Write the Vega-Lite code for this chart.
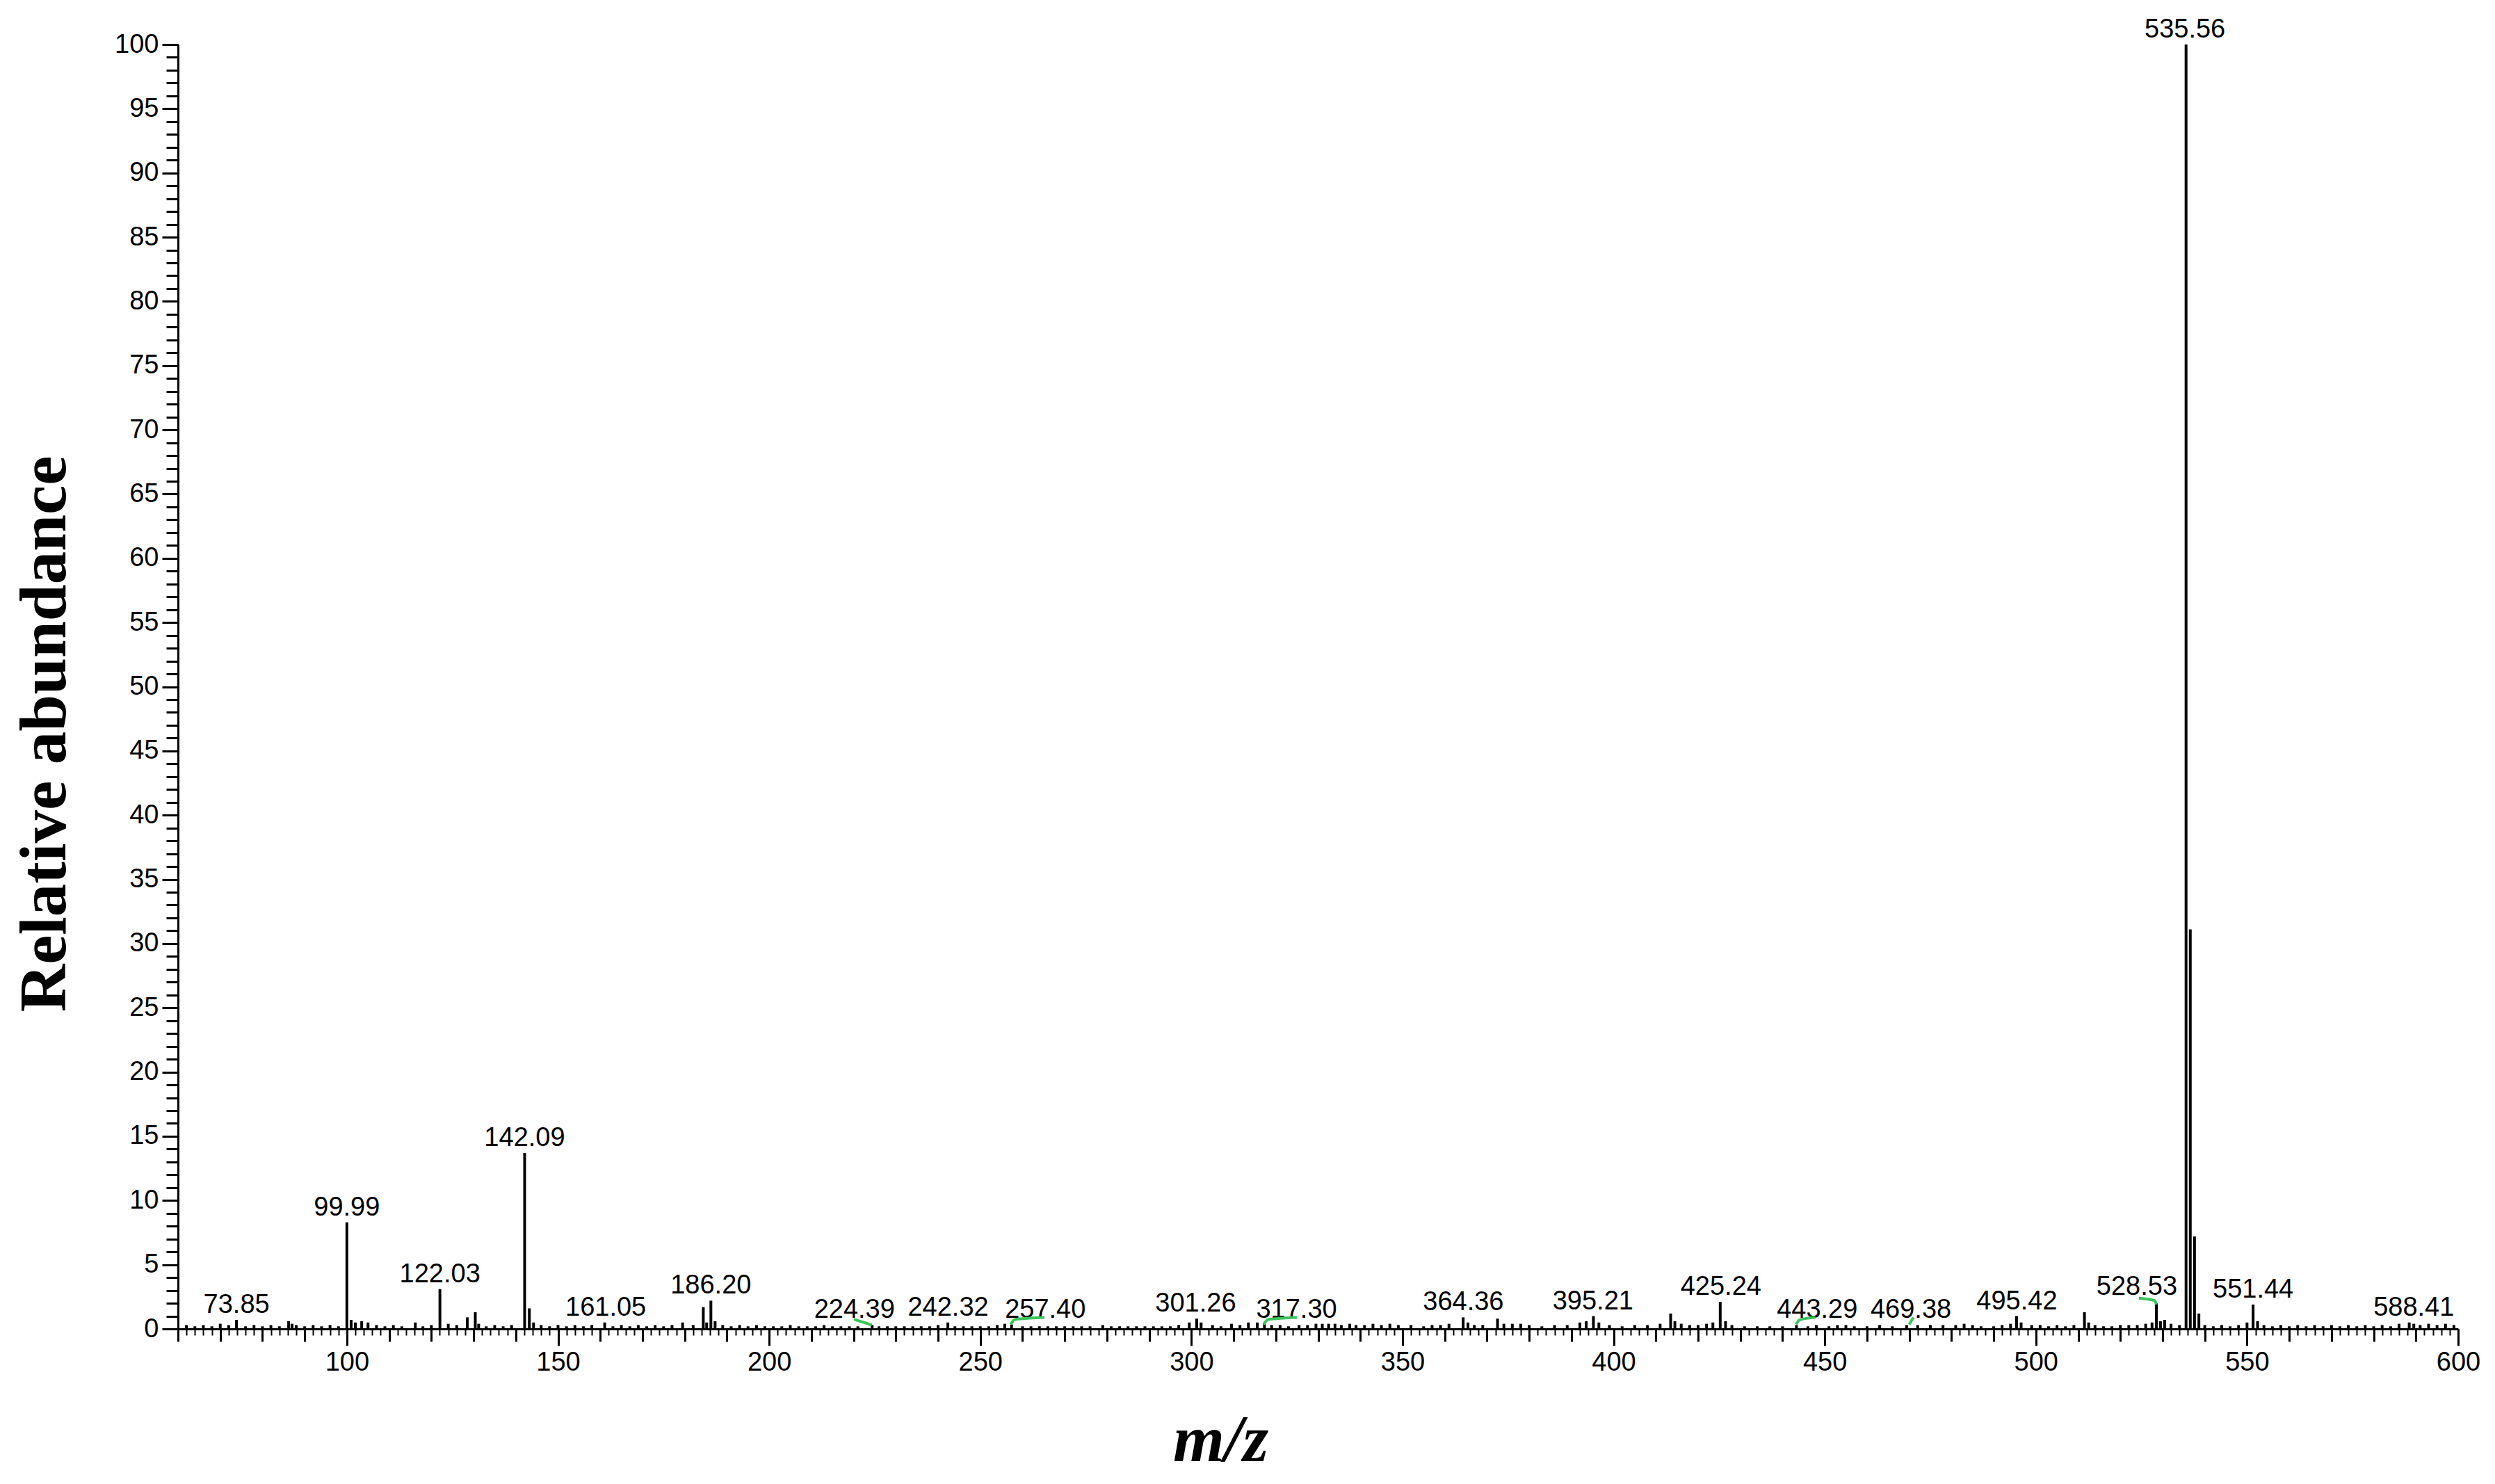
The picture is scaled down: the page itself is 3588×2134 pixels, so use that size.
{
  "$schema": "https://vega.github.io/schema/vega-lite/v6.json",
  "width": 3279,
  "height": 1847,
  "autosize": {"type": "none"},
  "padding": {"left": 256, "top": 64, "right": 53, "bottom": 223},
  "background": "white",
  "config": {"view": {"stroke": null}},
  "datasets": {
    "peaks": [
      {"mz": 62, "ab": 0.3}, {"mz": 64, "ab": 0.2}, {"mz": 66, "ab": 0.3}, {"mz": 68, "ab": 0.2}, {"mz": 70, "ab": 0.4},
      {"mz": 72, "ab": 0.3}, {"mz": 73.85, "ab": 0.7}, {"mz": 76, "ab": 0.2}, {"mz": 78, "ab": 0.3},
      {"mz": 80, "ab": 0.2}, {"mz": 82, "ab": 0.3}, {"mz": 84, "ab": 0.2}, {"mz": 86.2, "ab": 0.6}, {"mz": 87, "ab": 0.4},
      {"mz": 88, "ab": 0.3}, {"mz": 90, "ab": 0.2}, {"mz": 92, "ab": 0.3}, {"mz": 94, "ab": 0.2}, {"mz": 96, "ab": 0.3},
      {"mz": 98, "ab": 0.2}, {"mz": 99.99, "ab": 8.3}, {"mz": 101, "ab": 0.7}, {"mz": 102, "ab": 0.5},
      {"mz": 103.5, "ab": 0.6}, {"mz": 105, "ab": 0.5}, {"mz": 107, "ab": 0.3}, {"mz": 109, "ab": 0.2}, {"mz": 111, "ab": 0.3},
      {"mz": 113, "ab": 0.2}, {"mz": 116.2, "ab": 0.5}, {"mz": 118, "ab": 0.2}, {"mz": 120, "ab": 0.3},
      {"mz": 122.03, "ab": 3.1}, {"mz": 124, "ab": 0.4}, {"mz": 126, "ab": 0.3}, {"mz": 128.5, "ab": 0.9},
      {"mz": 130.4, "ab": 1.3}, {"mz": 131.2, "ab": 0.4}, {"mz": 133, "ab": 0.2}, {"mz": 135, "ab": 0.3}, {"mz": 137, "ab": 0.2},
      {"mz": 139, "ab": 0.3}, {"mz": 142.09, "ab": 13.7}, {"mz": 143.2, "ab": 1.6}, {"mz": 144.2, "ab": 0.5},
      {"mz": 146, "ab": 0.3}, {"mz": 148, "ab": 0.2}, {"mz": 150, "ab": 0.3}, {"mz": 152, "ab": 0.2}, {"mz": 154, "ab": 0.3},
      {"mz": 156, "ab": 0.2}, {"mz": 158, "ab": 0.3}, {"mz": 161.05, "ab": 0.5}, {"mz": 163, "ab": 0.2},
      {"mz": 165, "ab": 0.3}, {"mz": 167, "ab": 0.2}, {"mz": 169, "ab": 0.3}, {"mz": 171, "ab": 0.2}, {"mz": 173, "ab": 0.3},
      {"mz": 175, "ab": 0.2}, {"mz": 177, "ab": 0.3}, {"mz": 179.5, "ab": 0.5}, {"mz": 182, "ab": 0.3}, {"mz": 184.4, "ab": 1.7},
      {"mz": 185.2, "ab": 0.5}, {"mz": 186.2, "ab": 2.2}, {"mz": 187.2, "ab": 0.6}, {"mz": 189, "ab": 0.3},
      {"mz": 191, "ab": 0.2}, {"mz": 193, "ab": 0.3}, {"mz": 195, "ab": 0.2}, {"mz": 197, "ab": 0.3}, {"mz": 199, "ab": 0.2},
      {"mz": 201, "ab": 0.2}, {"mz": 203, "ab": 0.2}, {"mz": 205, "ab": 0.3}, {"mz": 207, "ab": 0.2}, {"mz": 209, "ab": 0.2},
      {"mz": 211, "ab": 0.2}, {"mz": 213, "ab": 0.3}, {"mz": 215, "ab": 0.2}, {"mz": 217, "ab": 0.2}, {"mz": 219, "ab": 0.2},
      {"mz": 221, "ab": 0.2}, {"mz": 224.39, "ab": 0.3}, {"mz": 226, "ab": 0.2}, {"mz": 228, "ab": 0.2},
      {"mz": 230, "ab": 0.2}, {"mz": 232, "ab": 0.2}, {"mz": 234, "ab": 0.2}, {"mz": 236, "ab": 0.2}, {"mz": 238, "ab": 0.2},
      {"mz": 240, "ab": 0.3}, {"mz": 242.32, "ab": 0.5}, {"mz": 244, "ab": 0.2}, {"mz": 246, "ab": 0.2},
      {"mz": 248, "ab": 0.2}, {"mz": 250, "ab": 0.2}, {"mz": 252, "ab": 0.2}, {"mz": 254, "ab": 0.3}, {"mz": 255.8, "ab": 0.4},
      {"mz": 257.4, "ab": 0.35}, {"mz": 260, "ab": 0.2}, {"mz": 262, "ab": 0.2}, {"mz": 264, "ab": 0.2},
      {"mz": 266, "ab": 0.2}, {"mz": 268, "ab": 0.2}, {"mz": 270, "ab": 0.2}, {"mz": 272, "ab": 0.2}, {"mz": 274, "ab": 0.2},
      {"mz": 276, "ab": 0.2}, {"mz": 279, "ab": 0.3}, {"mz": 281, "ab": 0.2}, {"mz": 283, "ab": 0.2}, {"mz": 285, "ab": 0.2},
      {"mz": 287, "ab": 0.2}, {"mz": 289, "ab": 0.2}, {"mz": 291, "ab": 0.2}, {"mz": 293, "ab": 0.2}, {"mz": 295, "ab": 0.2},
      {"mz": 297, "ab": 0.3}, {"mz": 299.5, "ab": 0.5}, {"mz": 301.26, "ab": 0.8}, {"mz": 302.3, "ab": 0.5},
      {"mz": 305, "ab": 0.3}, {"mz": 307, "ab": 0.2}, {"mz": 309.5, "ab": 0.4}, {"mz": 311.5, "ab": 0.3}, {"mz": 313.5, "ab": 0.5},
      {"mz": 315.6, "ab": 0.5}, {"mz": 317.3, "ab": 0.4}, {"mz": 319, "ab": 0.3}, {"mz": 321, "ab": 0.3},
      {"mz": 323, "ab": 0.2}, {"mz": 325.5, "ab": 0.3}, {"mz": 327.5, "ab": 0.3}, {"mz": 329.5, "ab": 0.4}, {"mz": 331, "ab": 0.4},
      {"mz": 332.5, "ab": 0.4}, {"mz": 334, "ab": 0.4}, {"mz": 335.5, "ab": 0.3}, {"mz": 337.5, "ab": 0.4}, {"mz": 339, "ab": 0.3},
      {"mz": 341, "ab": 0.3}, {"mz": 343, "ab": 0.4}, {"mz": 345, "ab": 0.3}, {"mz": 347, "ab": 0.4}, {"mz": 349, "ab": 0.3},
      {"mz": 352, "ab": 0.3}, {"mz": 355, "ab": 0.2}, {"mz": 357, "ab": 0.3}, {"mz": 359, "ab": 0.3}, {"mz": 361, "ab": 0.4},
      {"mz": 364.36, "ab": 0.9}, {"mz": 365.5, "ab": 0.5}, {"mz": 367, "ab": 0.3}, {"mz": 369, "ab": 0.3},
      {"mz": 372.5, "ab": 0.8}, {"mz": 374, "ab": 0.4}, {"mz": 376, "ab": 0.4}, {"mz": 378, "ab": 0.4}, {"mz": 380, "ab": 0.3},
      {"mz": 383, "ab": 0.2}, {"mz": 386, "ab": 0.3}, {"mz": 389, "ab": 0.3}, {"mz": 392, "ab": 0.5}, {"mz": 393.5, "ab": 0.6},
      {"mz": 395.21, "ab": 1.0}, {"mz": 396.5, "ab": 0.5}, {"mz": 399, "ab": 0.3}, {"mz": 402, "ab": 0.2},
      {"mz": 405, "ab": 0.3}, {"mz": 408, "ab": 0.3}, {"mz": 411, "ab": 0.4}, {"mz": 413.5, "ab": 1.2}, {"mz": 414.5, "ab": 0.6},
      {"mz": 416, "ab": 0.4}, {"mz": 418, "ab": 0.3}, {"mz": 420, "ab": 0.3}, {"mz": 422, "ab": 0.4}, {"mz": 423.5, "ab": 0.5},
      {"mz": 425.24, "ab": 2.1}, {"mz": 426.5, "ab": 0.6}, {"mz": 428, "ab": 0.3}, {"mz": 431, "ab": 0.2},
      {"mz": 434, "ab": 0.2}, {"mz": 437, "ab": 0.2}, {"mz": 440, "ab": 0.2}, {"mz": 443.29, "ab": 0.3},
      {"mz": 446, "ab": 0.2}, {"mz": 448, "ab": 0.3}, {"mz": 451, "ab": 0.2}, {"mz": 453, "ab": 0.3}, {"mz": 455, "ab": 0.3},
      {"mz": 457, "ab": 0.2}, {"mz": 460, "ab": 0.2}, {"mz": 463, "ab": 0.3}, {"mz": 466, "ab": 0.2},
      {"mz": 469.38, "ab": 0.3}, {"mz": 472, "ab": 0.3}, {"mz": 475, "ab": 0.3}, {"mz": 478, "ab": 0.3},
      {"mz": 481, "ab": 0.3}, {"mz": 483, "ab": 0.4}, {"mz": 485, "ab": 0.3}, {"mz": 487, "ab": 0.2}, {"mz": 490, "ab": 0.2},
      {"mz": 492, "ab": 0.3}, {"mz": 494, "ab": 0.4}, {"mz": 495.42, "ab": 1.0}, {"mz": 496.5, "ab": 0.5},
      {"mz": 499, "ab": 0.3}, {"mz": 501, "ab": 0.3}, {"mz": 503, "ab": 0.2}, {"mz": 505, "ab": 0.3}, {"mz": 507, "ab": 0.2},
      {"mz": 509, "ab": 0.3}, {"mz": 511.5, "ab": 1.3}, {"mz": 512.5, "ab": 0.5}, {"mz": 514, "ab": 0.3}, {"mz": 516, "ab": 0.2},
      {"mz": 518, "ab": 0.2}, {"mz": 520, "ab": 0.3}, {"mz": 522, "ab": 0.3}, {"mz": 524, "ab": 0.3}, {"mz": 526, "ab": 0.4},
      {"mz": 527.5, "ab": 0.5}, {"mz": 528.53, "ab": 2.0}, {"mz": 529.5, "ab": 0.6}, {"mz": 530.5, "ab": 0.7},
      {"mz": 532, "ab": 0.4}, {"mz": 534, "ab": 0.3}, {"mz": 535.56, "ab": 100}, {"mz": 536.56, "ab": 31.1},
      {"mz": 537.56, "ab": 7.2}, {"mz": 538.6, "ab": 1.2}, {"mz": 540, "ab": 0.3}, {"mz": 542, "ab": 0.2}, {"mz": 544, "ab": 0.3},
      {"mz": 546, "ab": 0.2}, {"mz": 548, "ab": 0.3}, {"mz": 550, "ab": 0.5}, {"mz": 551.44, "ab": 1.9},
      {"mz": 552.5, "ab": 0.6}, {"mz": 554, "ab": 0.3}, {"mz": 556, "ab": 0.2}, {"mz": 558, "ab": 0.3}, {"mz": 560, "ab": 0.2},
      {"mz": 562, "ab": 0.3}, {"mz": 564, "ab": 0.2}, {"mz": 566, "ab": 0.3}, {"mz": 568, "ab": 0.2}, {"mz": 570, "ab": 0.3},
      {"mz": 572, "ab": 0.2}, {"mz": 574, "ab": 0.3}, {"mz": 576, "ab": 0.2}, {"mz": 578, "ab": 0.3}, {"mz": 580, "ab": 0.2},
      {"mz": 582, "ab": 0.3}, {"mz": 584, "ab": 0.2}, {"mz": 586, "ab": 0.4}, {"mz": 588.41, "ab": 0.5},
      {"mz": 589.5, "ab": 0.4}, {"mz": 591, "ab": 0.3}, {"mz": 593, "ab": 0.4}, {"mz": 595, "ab": 0.3}, {"mz": 597, "ab": 0.4},
      {"mz": 599, "ab": 0.3}
    ],
    "labels": [
      {"label": "73.85", "mz": 73.85, "ab": 0.7}, {"label": "99.99", "mz": 99.99, "ab": 8.3},
      {"label": "122.03", "mz": 122.03, "ab": 3.1}, {"label": "142.09", "mz": 142.09, "ab": 13.7},
      {"label": "161.05", "mz": 161.3, "ab": 0.5}, {"label": "186.20", "mz": 186.2, "ab": 2.2},
      {"label": "224.39", "mz": 220.2, "ab": 0.3}, {"label": "242.32", "mz": 242.4, "ab": 0.5},
      {"label": "257.40", "mz": 265.4, "ab": 0.3}, {"label": "301.26", "mz": 301.0, "ab": 0.8},
      {"label": "317.30", "mz": 324.9, "ab": 0.3}, {"label": "364.36", "mz": 364.4, "ab": 0.9},
      {"label": "395.21", "mz": 395.1, "ab": 1.0}, {"label": "425.24", "mz": 425.4, "ab": 2.1},
      {"label": "443.29", "mz": 448.2, "ab": 0.3}, {"label": "469.38", "mz": 470.4, "ab": 0.3},
      {"label": "495.42", "mz": 495.5, "ab": 1.0}, {"label": "528.53", "mz": 523.9, "ab": 2.1},
      {"label": "535.56", "mz": 535.3, "ab": 100}, {"label": "551.44", "mz": 551.44, "ab": 1.9},
      {"label": "588.41", "mz": 589.5, "ab": 0.5}
    ],
    "callouts": [
      {"g": "224.39", "o": 1, "mz": 220.1, "ab": 0.75}, {"g": "224.39", "o": 2, "mz": 222.5, "ab": 0.5}, {"g": "224.39", "o": 3, "mz": 224.3, "ab": 0.3},
      {"g": "257.40", "o": 1, "mz": 257.2, "ab": 0.35}, {"g": "257.40", "o": 2, "mz": 258.2, "ab": 0.75}, {"g": "257.40", "o": 3, "mz": 265.2, "ab": 0.9},
      {"g": "317.30", "o": 1, "mz": 317.1, "ab": 0.35}, {"g": "317.30", "o": 2, "mz": 318.2, "ab": 0.75}, {"g": "317.30", "o": 3, "mz": 325.0, "ab": 0.9},
      {"g": "443.29", "o": 1, "mz": 443.2, "ab": 0.35}, {"g": "443.29", "o": 2, "mz": 444.0, "ab": 0.7}, {"g": "443.29", "o": 3, "mz": 447.8, "ab": 0.9},
      {"g": "469.38", "o": 1, "mz": 470.0, "ab": 0.35}, {"g": "469.38", "o": 2, "mz": 471.0, "ab": 0.9},
      {"g": "528.53", "o": 1, "mz": 524.4, "ab": 2.4}, {"g": "528.53", "o": 2, "mz": 528.2, "ab": 2.2}, {"g": "528.53", "o": 3, "mz": 528.5, "ab": 1.9}
    ]
  },
  "resolve": {"axis": {"x": "independent", "y": "independent"}},
  "layer": [
    {
      "data": {"name": "peaks"},
      "mark": {"type": "rule", "color": "black", "strokeWidth": 4},
      "encoding": {
        "x": {
          "field": "mz", "type": "quantitative",
          "scale": {"domain": [60, 600], "nice": false, "zero": false},
          "axis": {
            "orient": "bottom",
            "title": "m/z",
            "titleFont": "Liberation Serif", "titleFontSize": 95, "titleFontWeight": "bold", "titleFontStyle": "italic",
            "titleColor": "black", "titleX": 1499, "titleY": 189, "titleAlign": "center", "titleBaseline": "alphabetic", "titleAngle": 0,
            "values": [100, 150, 200, 250, 300, 350, 400, 450, 500, 550, 600],
            "labelFont": "Liberation Sans", "labelFontSize": 38, "labelColor": "black",
            "labelOverlap": false, "labelFlush": false, "labelBound": false, "labelPadding": 5,
            "tickColor": "black", "tickWidth": 3, "tickSize": 24,
            "domainColor": "black", "domainWidth": 3, "grid": false
          }
        },
        "y": {
          "field": "ab", "type": "quantitative",
          "scale": {"domain": [0, 100], "nice": false},
          "axis": {
            "orient": "left",
            "title": "Relative abundance",
            "titleFont": "Liberation Serif", "titleFontSize": 95, "titleFontWeight": "bold", "titleColor": "black",
            "titleAngle": -90, "titleX": -163, "titleY": 991, "titleAlign": "center", "titleBaseline": "alphabetic",
            "values": [0, 5, 10, 15, 20, 25, 30, 35, 40, 45, 50, 55, 60, 65, 70, 75, 80, 85, 90, 95, 100],
            "labelFont": "Liberation Sans", "labelFontSize": 38, "labelColor": "black",
            "labelOverlap": false, "labelFlush": false, "labelBound": false, "labelPadding": 5,
            "tickColor": "black", "tickWidth": 3, "tickSize": 23,
            "domainColor": "black", "domainWidth": 3, "grid": false
          }
        },
        "y2": {"datum": 0}
      }
    },
    {
      "data": {"name": "labels"},
      "mark": {"type": "text", "align": "center", "baseline": "alphabetic", "dy": -10, "font": "Liberation Sans", "fontSize": 38, "color": "black"},
      "encoding": {
        "x": {
          "field": "mz", "type": "quantitative",
          "axis": {
            "orient": "bottom", "title": null, "labels": false, "domain": false, "grid": false,
            "values": [60, 70, 80, 90, 100, 110, 120, 130, 140, 150, 160, 170, 180, 190, 200, 210, 220, 230, 240, 250, 260, 270, 280, 290, 300, 310, 320, 330, 340, 350, 360, 370, 380, 390, 400, 410, 420, 430, 440, 450, 460, 470, 480, 490, 500, 510, 520, 530, 540, 550, 560, 570, 580, 590, 600],
            "tickColor": "black", "tickWidth": 3, "tickSize": 18
          }
        },
        "y": {
          "field": "ab", "type": "quantitative",
          "axis": {
            "orient": "left", "title": null, "labels": false, "domain": false, "grid": false,
            "values": [0,1,2,3,4,5,6,7,8,9,10,11,12,13,14,15,16,17,18,19,20,21,22,23,24,25,26,27,28,29,30,31,32,33,34,35,36,37,38,39,40,41,42,43,44,45,46,47,48,49,50,51,52,53,54,55,56,57,58,59,60,61,62,63,64,65,66,67,68,69,70,71,72,73,74,75,76,77,78,79,80,81,82,83,84,85,86,87,88,89,90,91,92,93,94,95,96,97,98,99,100],
            "tickColor": "black", "tickWidth": 3, "tickSize": 17
          }
        },
        "text": {"field": "label"}
      }
    },
    {
      "data": {"name": "callouts"},
      "mark": {"type": "line", "color": "#3cc35a", "strokeWidth": 4, "interpolate": "monotone"},
      "encoding": {
        "x": {
          "field": "mz", "type": "quantitative",
          "axis": {
            "orient": "bottom", "title": null, "labels": false, "domain": false, "grid": false,
            "values": [62,64,66,68,72,74,76,78,82,84,86,88,92,94,96,98,102,104,106,108,112,114,116,118,122,124,126,128,132,134,136,138,142,144,146,148,152,154,156,158,162,164,166,168,172,174,176,178,182,184,186,188,192,194,196,198,202,204,206,208,212,214,216,218,222,224,226,228,232,234,236,238,242,244,246,248,252,254,256,258,262,264,266,268,272,274,276,278,282,284,286,288,292,294,296,298,302,304,306,308,312,314,316,318,322,324,326,328,332,334,336,338,342,344,346,348,352,354,356,358,362,364,366,368,372,374,376,378,382,384,386,388,392,394,396,398,402,404,406,408,412,414,416,418,422,424,426,428,432,434,436,438,442,444,446,448,452,454,456,458,462,464,466,468,472,474,476,478,482,484,486,488,492,494,496,498,502,504,506,508,512,514,516,518,522,524,526,528,532,534,536,538,542,544,546,548,552,554,556,558,562,564,566,568,572,574,576,578,582,584,586,588,592,594,596,598],
            "tickColor": "black", "tickWidth": 2, "tickSize": 9
          }
        },
        "y": {"field": "ab", "type": "quantitative", "axis": null},
        "detail": {"field": "g"},
        "order": {"field": "o"}
      }
    }
  ]
}
